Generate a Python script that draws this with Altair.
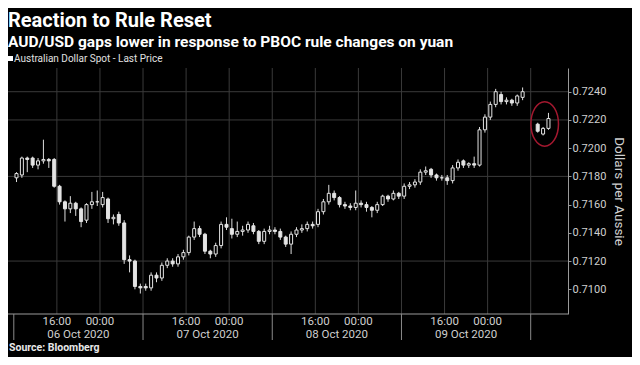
import altair as alt
import pandas as pd

# ---- data (hourly candles, AUD/USD) ----
hour_index = list(range(95)) + [96.8, 97.8, 98.8]
opens = [0.7179, 0.7181, 0.7193, 0.7193, 0.7188, 0.7191, 0.7192, 0.7192, 0.7173, 0.7162,
         0.7157, 0.7161, 0.7157, 0.7149, 0.7160, 0.7162, 0.7160, 0.7164, 0.7150, 0.7153,
         0.7147, 0.7121, 0.7120, 0.7102, 0.7102, 0.7101, 0.7110, 0.7108, 0.7117, 0.7120,
         0.7118, 0.7123, 0.7126, 0.7137, 0.7143, 0.7139, 0.7127, 0.7125, 0.7131, 0.7146,
         0.7143, 0.7139, 0.7141, 0.7142, 0.7145, 0.7141, 0.7134, 0.7141, 0.7142, 0.7141,
         0.7137, 0.7132, 0.7139, 0.7142, 0.7143, 0.7146, 0.7146, 0.7155, 0.7162, 0.7168,
         0.7165, 0.7160, 0.7159, 0.7158, 0.7161, 0.7160, 0.7158, 0.7156, 0.7160, 0.7166,
         0.7164, 0.7168, 0.7166, 0.7173, 0.7174, 0.7176, 0.7183, 0.7185, 0.7181, 0.7179,
         0.7179, 0.7177, 0.7186, 0.7191, 0.7188, 0.7189, 0.7188, 0.7213, 0.7222, 0.7231,
         0.7238, 0.7233, 0.7234, 0.7232, 0.7236,
         0.7217, 0.7210, 0.7214]
closes = [0.7182, 0.7193, 0.7192, 0.7188, 0.7191, 0.7192, 0.7191, 0.7173, 0.7162, 0.7157,
          0.7161, 0.7157, 0.7148, 0.7160, 0.7162, 0.7162, 0.7165, 0.7150, 0.7151, 0.7147,
          0.7121, 0.7120, 0.7102, 0.7101, 0.7101, 0.7110, 0.7108, 0.7117, 0.7120, 0.7118,
          0.7123, 0.7126, 0.7137, 0.7143, 0.7139, 0.7127, 0.7125, 0.7131, 0.7146, 0.7144,
          0.7139, 0.7141, 0.7142, 0.7146, 0.7141, 0.7134, 0.7141, 0.7142, 0.7141, 0.7137,
          0.7132, 0.7139, 0.7142, 0.7143, 0.7146, 0.7145, 0.7155, 0.7162, 0.7168, 0.7165,
          0.7160, 0.7159, 0.7158, 0.7161, 0.7160, 0.7158, 0.7156, 0.7160, 0.7166, 0.7164,
          0.7168, 0.7166, 0.7173, 0.7174, 0.7176, 0.7183, 0.7184, 0.7181, 0.7179, 0.7179,
          0.7177, 0.7186, 0.7190, 0.7188, 0.7189, 0.7188, 0.7213, 0.7222, 0.7231, 0.7240,
          0.7233, 0.7234, 0.7232, 0.7237, 0.7240,
          0.7212, 0.7214, 0.7221]
highs = [0.7183, 0.7194, 0.7194, 0.7194, 0.7193, 0.7206, 0.7193, 0.7193, 0.7174, 0.7163,
         0.7166, 0.7162, 0.7158, 0.7161, 0.7169, 0.7170, 0.7169, 0.7165, 0.7153, 0.7155,
         0.7149, 0.7124, 0.7121, 0.7104, 0.7104, 0.7112, 0.7112, 0.7119, 0.7122, 0.7122,
         0.7125, 0.7128, 0.7138, 0.7148, 0.7145, 0.7140, 0.7128, 0.7133, 0.7148, 0.7151,
         0.7150, 0.7148, 0.7145, 0.7148, 0.7147, 0.7142, 0.7143, 0.7145, 0.7144, 0.7143,
         0.7138, 0.7141, 0.7144, 0.7146, 0.7148, 0.7148, 0.7157, 0.7164, 0.7174, 0.7170,
         0.7166, 0.7162, 0.7161, 0.7170, 0.7163, 0.7162, 0.7159, 0.7162, 0.7167, 0.7167,
         0.7170, 0.7169, 0.7175, 0.7176, 0.7178, 0.7185, 0.7187, 0.7186, 0.7182, 0.7181,
         0.7181, 0.7188, 0.7192, 0.7192, 0.7190, 0.7194, 0.7215, 0.7224, 0.7233, 0.7242,
         0.7240, 0.7236, 0.7235, 0.7238, 0.7243,
         0.7218, 0.7215, 0.7225]
lows = [0.7176, 0.7179, 0.7183, 0.7186, 0.7185, 0.7189, 0.7186, 0.7172, 0.7160, 0.7148,
        0.7154, 0.7152, 0.7144, 0.7147, 0.7157, 0.7159, 0.7158, 0.7147, 0.7146, 0.7145,
        0.7118, 0.7112, 0.7100, 0.7097, 0.7099, 0.7099, 0.7105, 0.7106, 0.7115, 0.7116,
        0.7116, 0.7121, 0.7124, 0.7135, 0.7137, 0.7125, 0.7122, 0.7123, 0.7129, 0.7142,
        0.7136, 0.7137, 0.7138, 0.7140, 0.7139, 0.7132, 0.7132, 0.7139, 0.7139, 0.7135,
        0.7130, 0.7125, 0.7137, 0.7140, 0.7141, 0.7143, 0.7144, 0.7153, 0.7160, 0.7163,
        0.7158, 0.7157, 0.7156, 0.7156, 0.7158, 0.7155, 0.7151, 0.7154, 0.7159, 0.7162,
        0.7163, 0.7164, 0.7164, 0.7171, 0.7172, 0.7174, 0.7181, 0.7179, 0.7177, 0.7177,
        0.7174, 0.7175, 0.7184, 0.7186, 0.7186, 0.7186, 0.7187, 0.7211, 0.7220, 0.7229,
        0.7231, 0.7231, 0.7230, 0.7230, 0.7234,
        0.7211, 0.7209, 0.7213]

y_ticks = [0.7100, 0.7120, 0.7140, 0.7160, 0.7180, 0.7200, 0.7220, 0.7240]
h_grid = [0.7120, 0.7180, 0.7220, 0.7240]
grid_hours = [7.5, 15.5, 23.5, 31.5, 39.5, 47.5, 55.5, 63.5, 71.5, 79.5, 87.5, 95.5]
day_bounds = [-0.5, 23.5, 47.5, 71.5, 95.5]
time_pos = [7.5, 15.5, 31.5, 39.5, 55.5, 63.5, 79.5, 87.5]
time_labels = ["16:00", "00:00", "16:00", "00:00", "16:00", "00:00", "16:00", "00:00"]
date_pos = [11.5, 35.5, 59.5, 83.5]
date_labels = ["06 Oct 2020", "07 Oct 2020", "08 Oct 2020", "09 Oct 2020"]
circle_at = {"i": [98.1], "v": [0.72172]}

candles = pd.DataFrame({"i": hour_index, "open": opens, "close": closes,
                        "high": highs, "low": lows})

W, H = 560, 246
FONT = "Roboto"
xs = alt.Scale(domain=[-0.65, 101.5], nice=False, zero=False)
ys = alt.Scale(domain=[0.70825, 0.72568], nice=False, zero=False)
yaxis = alt.Axis(orient="right", values=y_ticks, format=".4f", grid=False,
                 domain=True, domainColor="#9a9a9a", tickColor="#9a9a9a", tickSize=3,
                 labelColor="#cfcfcf", labelFontSize=11, labelFont=FONT, labelPadding=1,
                 title="Dollars per Aussie", titleColor="#cfcfcf", titleFont=FONT,
                 titleFontSize=13.5, titleFontWeight="normal", titlePadding=6)
X = alt.X("i:Q", scale=xs, axis=None)

vgrid = alt.Chart(pd.DataFrame({"i": grid_hours})).mark_rule(
    color="#3a3a3a", strokeWidth=1).encode(x=X, y=alt.value(0), y2=alt.value(H))
hgrid = alt.Chart(pd.DataFrame({"v": h_grid})).mark_rule(
    color="#3a3a3a", strokeWidth=1).encode(
    y=alt.Y("v:Q", scale=ys, axis=yaxis), x=alt.value(0), x2=alt.value(W))

wicks = alt.Chart(candles).mark_rule(color="#dedede", strokeWidth=1).encode(
    x=X, y=alt.Y("low:Q", scale=ys, axis=yaxis), y2="high:Q")
bodies = alt.Chart(candles).mark_bar(size=3, stroke="#e4e4e4", strokeWidth=1).encode(
    x=X, y=alt.Y("open:Q", scale=ys, axis=yaxis), y2="close:Q",
    fill=alt.condition("datum.close >= datum.open", alt.value("#000000"),
                       alt.value("#e4e4e4")))

ellipse = alt.Chart(pd.DataFrame(circle_at)).mark_point(
    shape="M -0.62,0 A 0.62,1 0 1,0 0.62,0 A 0.62,1 0 1,0 -0.62,0",
    size=1980, filled=False, stroke="#a3182f", strokeWidth=1.5, opacity=1).encode(
    x=X, y=alt.Y("v:Q", scale=ys, axis=yaxis))

xline = alt.Chart(pd.DataFrame({"a": [0]})).mark_rule(color="#9a9a9a", strokeWidth=1).encode(
    x=alt.value(0), x2=alt.value(W), y=alt.value(H))
seps = alt.Chart(pd.DataFrame({"i": day_bounds})).mark_rule(
    color="#8a8a8a", strokeWidth=1).encode(x=X, y=alt.value(H), y2=alt.value(H + 26))
tlab = alt.Chart(pd.DataFrame({"i": time_pos, "t": time_labels})).mark_text(
    color="#cfcfcf", fontSize=11.5, font=FONT, baseline="alphabetic", align="center").encode(
    x=X, y=alt.value(H + 11), text="t:N")
dlab = alt.Chart(pd.DataFrame({"i": date_pos, "t": date_labels})).mark_text(
    color="#cfcfcf", fontSize=11.5, font=FONT, baseline="alphabetic", align="center").encode(
    x=X, y=alt.value(H + 24), text="t:N")


def txt(s, x, y, size, weight="normal", color="#ffffff"):
    return alt.Chart(pd.DataFrame({"t": [s]})).mark_text(
        align="left", baseline="alphabetic", font=FONT, fontSize=size,
        fontWeight=weight, color=color).encode(
        text="t:N", x=alt.value(x), y=alt.value(y))


title = txt("Reaction to Rule Reset", 0, -41, 20, "bold")
subtitle = txt("AUD/USD gaps lower in response to PBOC rule changes on yuan", 0, -21.5, 15.5, "bold")
legend_txt = txt("Australian Dollar Spot - Last Price", 6, -6, 10, "normal", "#e0e0e0")
legend_sq = alt.Chart(pd.DataFrame({"a": [0]})).mark_square(
    size=25, color="#ffffff", opacity=1).encode(x=alt.value(2.5), y=alt.value(-9.5))
source = txt("Source: Bloomberg", 1, 283, 10.5, "bold", "#e8e8e8")

chart = alt.layer(
    vgrid, hgrid, xline, seps, wicks, bodies, ellipse, tlab, dlab,
    title, subtitle, legend_sq, legend_txt, source
).properties(
    width=W, height=H,
    autosize=alt.AutoSizeParams(type="none"),
    padding={"left": 0, "top": 60, "right": 64, "bottom": 43},
    background="#000000",
).configure_view(stroke=None)

chart.save("out.html", embed_options={"renderer": "svg", "actions": False})
